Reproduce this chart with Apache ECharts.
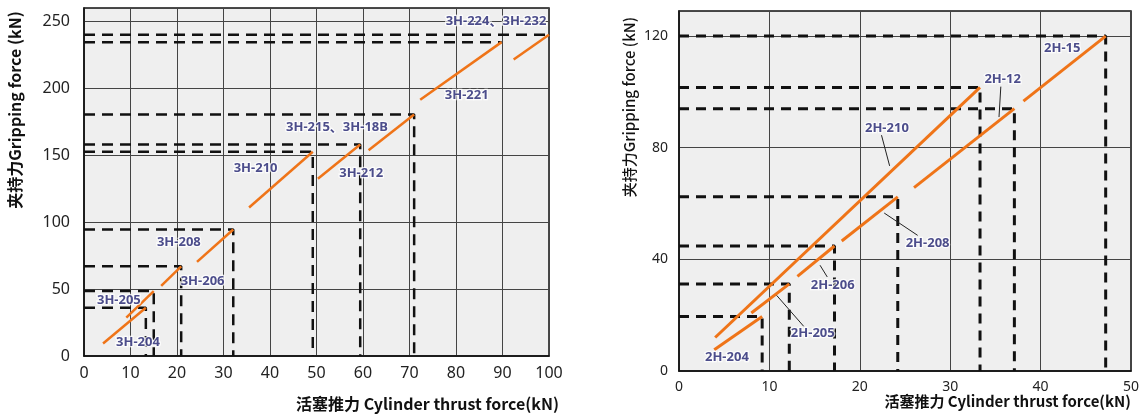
<!DOCTYPE html>
<html><head><meta charset="utf-8">
<script src="https://cdn.jsdelivr.net/npm/echarts@6/dist/echarts.min.js"></script>
<style>html,body{margin:0;padding:0;background:#fff}#c{width:1142px;height:416px}</style>
</head><body><div id="c"></div>
<script>
// ---------- Left chart: 3H models ----------
const leftModels = ['3H-204','3H-205','3H-206','3H-208','3H-210','3H-212','3H-215、3H-18B','3H-221','3H-224、3H-232'];
const leftStartX = [4.1, 9.1, 16.6, 24.3, 35.5, 50.3, 61.2, 72.3, 92.4];
const leftStartY = [9.4, 28.6, 52.4, 70.3, 110.9, 132.4, 153.8, 191.4, 221.5];
const leftEndX   = [13.3, 15.0, 20.9, 32.1, 49.2, 59.4, 71.0, 89.8, 100];
const leftEndY   = [36, 48.5, 67, 94.5, 152.6, 158, 180.5, 234.5, 240];
const leftDrop   = [true, true, true, true, true, true, true, false, false];
const leftLabelX = [11.6, 7.5, 25.5, 20.4, 36.9, 59.6, 54.4, 82.3, 88.6];
const leftLabelY = [10.4, 41.8, 55.9, 85.0, 140.2, 136.5, 170.8, 194.6, 249.8];
const leftXTicks = [0,10,20,30,40,50,60,70,80,90,100];
const leftYTicks = [0,50,100,150,200,250];
const leftYMax = 260;

// ---------- Right chart: 2H models ----------
const rightModels = ['2H-204','2H-205','2H-206','2H-208','2H-210','2H-12','2H-15'];
const rightStartX = [3.9, 8.0, 13.1, 18.0, 4.0, 26.0, 38.1];
const rightStartY = [7.6, 20.8, 33.9, 46.6, 12.0, 65.7, 96.7];
const rightEndX   = [9.2, 12.2, 17.2, 24.2, 33.3, 37.1, 47.2];
const rightEndY   = [19.5, 31.2, 44.8, 62.4, 101.6, 94.0, 120];
const rightLabelX = [5.3, 14.8, 17.0, 27.5, 23.0, 35.8, 42.4];
const rightLabelY = [4.9, 13.5, 30.7, 45.8, 87.0, 104.6, 115.7];
// leader lines (label -> line), data units
const leaderFromX = [10.8, 15.6, 22.7, 22.4, 35.6];
const leaderFromY = [27.1, 37.9, 56.6, 84.5, 101.9];
const leaderToX   = [13.8, 16.4, 26.4, 23.3, 35.4];
const leaderToY   = [16.0, 33.7, 48.6, 73.5, 91.0];
const rightXTicks = [0,10,20,30,40,50];
const rightYTicks = [0,40,80,120];
const rightYMax = 129;

const ORANGE = '#ef7418';
const NAVY = '#1f206e';
const tickFont = '"Noto Sans", sans-serif';

function buildSeries(idx, models, sx, sy, ex, ey, drop, lx, ly, dashW, lineW, dash) {
  const out = [];
  models.forEach((m, i) => {
    const guide = drop[i] ? [[0, ey[i]], [ex[i], ey[i]], [ex[i], 0]] : [[0, ey[i]], [ex[i], ey[i]]];
    out.push({
      type: 'line', xAxisIndex: idx, yAxisIndex: idx, data: guide, showSymbol: false, silent: true,
      lineStyle: { color: '#111', width: dashW, type: dash }, z: 3, animation: false
    });
  });
  models.forEach((m, i) => {
    out.push({
      type: 'line', xAxisIndex: idx, yAxisIndex: idx, data: [[sx[i], sy[i]], [ex[i], ey[i]]],
      showSymbol: false, silent: true, lineStyle: { color: ORANGE, width: lineW }, z: 5, animation: false
    });
  });
  out.push({
    type: 'scatter', xAxisIndex: idx, yAxisIndex: idx, symbolSize: 1, z: 8, animation: false,
    itemStyle: { color: 'transparent' },
    data: models.map((m, i) => ({ name: m, value: [lx[i], ly[i]] })),
    label: {
      show: true, position: 'inside', formatter: p => p.name,
      fontFamily: '"Noto Sans", "Noto Sans CJK SC", sans-serif', fontWeight: 'bold', fontSize: 13,
      color: NAVY, textBorderColor: '#fff', textBorderWidth: 2.5
    }
  });
  return out;
}

const series = [
  ...buildSeries(0, leftModels, leftStartX, leftStartY, leftEndX, leftEndY, leftDrop, leftLabelX, leftLabelY, 2.5, 2.5, [11, 7]),
  ...buildSeries(1, rightModels, rightStartX, rightStartY, rightEndX, rightEndY, rightModels.map(() => true), rightLabelX, rightLabelY, 3, 3, [10, 7])
];
leaderFromX.forEach((v, i) => {
  series.push({
    type: 'line', xAxisIndex: 1, yAxisIndex: 1, showSymbol: false, silent: true, z: 6, animation: false,
    data: [[leaderFromX[i], leaderFromY[i]], [leaderToX[i], leaderToY[i]]],
    lineStyle: { color: '#222', width: 1 }
  });
});

function xAxis(idx, ticks, fs) {
  return {
    type: 'value', gridIndex: idx, min: ticks[0], max: ticks[ticks.length - 1], interval: ticks[1] - ticks[0],
    axisLine: { show: true, lineStyle: { color: '#111', width: 1.5 } },
    axisTick: { show: false },
    splitLine: { show: true, lineStyle: { color: '#444', width: 1 } },
    axisLabel: { fontSize: fs, color: '#222', margin: 9, fontFamily: tickFont }
  };
}
function yAxis(idx, ticks, max, fs, margin) {
  const step = ticks[1] - ticks[0];
  return {
    type: 'value', gridIndex: idx, min: 0, max: max, interval: step,
    axisLine: { show: true, lineStyle: { color: '#111', width: 1.5 } },
    axisTick: { show: false },
    splitLine: { show: true, lineStyle: { color: '#444', width: 1 } },
    axisLabel: { fontSize: fs, color: '#222', margin: margin, fontFamily: tickFont,
      formatter: v => (ticks.indexOf(v) >= 0 ? String(v) : '') }
  };
}

const option = {
  animation: false,
  backgroundColor: '#fff',
  grid: [
    { left: 84, top: 8, width: 465, height: 348, show: true, backgroundColor: '#efefef', borderColor: '#111', borderWidth: 1.5 },
    { left: 679, top: 11, width: 454, height: 360, show: true, backgroundColor: '#efefef', borderColor: '#111', borderWidth: 1.5 }
  ],
  xAxis: [xAxis(0, leftXTicks, 16), xAxis(1, rightXTicks, 14)],
  yAxis: [yAxis(0, leftYTicks, leftYMax, 16, 14), yAxis(1, rightYTicks, rightYMax, 14, 11)],
  graphic: [
    { type: 'text', x: 296, y: 404, style: { text: '活塞推力 Cylinder thrust force(kN)', font: 'bold 16px "Noto Sans CJK SC", sans-serif', fill: '#111', textAlign: 'left', textVerticalAlign: 'middle', align: 'left', verticalAlign: 'middle' } },
    { type: 'text', x: 1131, y: 401, style: { text: '活塞推力 Cylinder thrust force(kN)', font: 'bold 15px "Noto Sans CJK SC", sans-serif', fill: '#111', textAlign: 'right', textVerticalAlign: 'middle', align: 'right', verticalAlign: 'middle' } },
    { type: 'text', x: 15, y: 110, rotation: Math.PI / 2, style: { text: '夹持力Gripping force (kN)', font: 'bold 16px "Noto Sans CJK SC", sans-serif', fill: '#111', textAlign: 'center', textVerticalAlign: 'middle', align: 'center', verticalAlign: 'middle' } },
    { type: 'text', x: 629, y: 107, rotation: Math.PI / 2, style: { text: '夹持力Gripping force (kN)', font: '500 15px "Noto Sans CJK SC", sans-serif', fill: '#111', textAlign: 'center', textVerticalAlign: 'middle', align: 'center', verticalAlign: 'middle' } }
  ],
  series: series
};

const chart = echarts.init(document.getElementById('c'), null, { renderer: 'canvas' });
chart.setOption(option);
</script>
</body></html>
